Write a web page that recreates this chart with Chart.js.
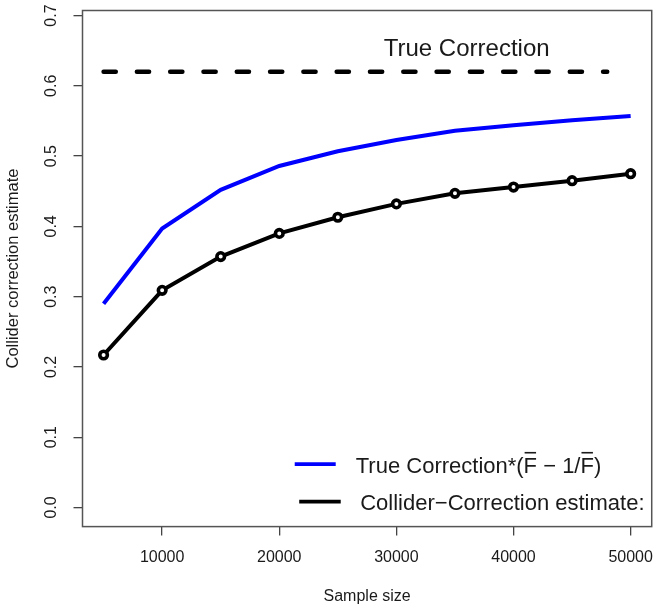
<!DOCTYPE html>
<html>
<head>
<meta charset="utf-8">
<script src="https://cdn.jsdelivr.net/npm/chart.js@4.4.1/dist/chart.umd.min.js"></script>
<style>
  body { margin: 0; background: #fff; }
  canvas { display: block; }
</style>
</head>
<body>
<canvas id="collider-chart" width="666" height="613"></canvas>
<script>
"use strict";
const sampleSizes = [5000, 10000, 15000, 20000, 25000, 30000, 35000, 40000, 45000, 50000];
const trueCorrectionScaled = [0.290, 0.397, 0.452, 0.486, 0.507, 0.523, 0.536, 0.544, 0.551, 0.557];
const colliderEstimate = [0.217, 0.309, 0.357, 0.390, 0.413, 0.432, 0.447, 0.456, 0.465, 0.475];
const trueCorrectionX = [5000, 48000];
const trueCorrectionValue = 0.62;

const xTicks = [10000, 20000, 30000, 40000, 50000];
const xTickLabels = ["10000", "20000", "30000", "40000", "50000"];
const yTicks = [0, 0.1, 0.2, 0.3, 0.4, 0.5, 0.6, 0.7];
const yTickLabels = ["0.0", "0.1", "0.2", "0.3", "0.4", "0.5", "0.6", "0.7"];

const seriesLabels = ["True Correction*(F\u0304 \u2212 1/F\u0304)", "Collider\u2212Correction estimate:"];
const trueCorrectionLabel = "True Correction";
const xTitle = "Sample size";
const yTitle = "Collider correction estimate";

const FONT = "'Liberation Sans', Arial, Helvetica, sans-serif";
const TEXT = "#1a1a1a";
Chart.defaults.font.family = FONT;

// text with combining macron -> draw a bar over the previous letter
function drawOverlined(ctx, text, x, y, size) {
  const chars = Array.from(text);
  let cx = x;
  let run = "";
  const flush = () => {
    if (!run) return;
    ctx.fillText(run, cx, y);
    cx += ctx.measureText(run).width;
    run = "";
  };
  for (let i = 0; i < chars.length; i++) {
    const c = chars[i];
    if (c === "\u0304") continue;
    if (chars[i + 1] === "\u0304") {
      flush();
      ctx.fillText(c, cx, y);
      const w = ctx.measureText(c).width;
      ctx.fillRect(cx + 1, y - size * 0.94, w - 2, 1.6);
      cx += w;
    } else {
      run += c;
    }
  }
  flush();
}

const rStyle = {
  id: "rStyle",
  afterDraw(chart) {
    const { ctx, chartArea: a, scales } = chart;
    ctx.save();

    // plot box
    ctx.strokeStyle = "#555";
    ctx.lineWidth = 1.5;
    ctx.strokeRect(a.left, a.top, a.right - a.left, a.bottom - a.top);

    // y tick labels, rotated like base R
    ctx.fillStyle = TEXT;
    ctx.font = "16px " + FONT;
    ctx.textAlign = "center";
    ctx.textBaseline = "middle";
    yTicks.forEach((v, i) => {
      ctx.save();
      ctx.translate(a.left - 31, scales.y.getPixelForValue(v));
      ctx.rotate(-Math.PI / 2);
      ctx.fillText(yTickLabels[i], 0, 0);
      ctx.restore();
    });

    // y axis title
    ctx.save();
    ctx.font = "16.5px " + FONT;
    ctx.translate(a.left - 69.5, (a.top + a.bottom) / 2);
    ctx.rotate(-Math.PI / 2);
    ctx.fillText(yTitle, 0, 0);
    ctx.restore();

    // label above the dashed line
    ctx.font = "24px " + FONT;
    ctx.textBaseline = "alphabetic";
    ctx.fillText(trueCorrectionLabel, scales.x.getPixelForValue(36000), scales.y.getPixelForValue(0.643));

    // legend, bottom right inside the box
    ctx.font = "22px " + FONT;
    ctx.textAlign = "left";
    const rows = [
      { ds: chart.data.datasets[0], x0: a.right - 357, x1: a.right - 316, tx: a.right - 296, base: a.bottom - 54 },
      { ds: chart.data.datasets[1], x0: a.right - 352.5, x1: a.right - 311, tx: a.right - 291.5, base: a.bottom - 16.5 },
    ];
    rows.forEach((r) => {
      ctx.strokeStyle = r.ds.borderColor;
      ctx.lineWidth = 3.6;
      ctx.beginPath();
      ctx.moveTo(r.x0, r.base - 8.5);
      ctx.lineTo(r.x1, r.base - 8.5);
      ctx.stroke();
      ctx.fillStyle = TEXT;
      drawOverlined(ctx, r.ds.label, r.tx, r.base, 22);
    });

    ctx.restore();
  },
};

const axisGrid = { drawOnChartArea: false, tickLength: 9, color: "#444", lineWidth: 1.3 };

const chart = new Chart(document.querySelector("#collider-chart"), {
  type: "line",
  data: {
    datasets: [
      {
        label: seriesLabels[0],
        data: sampleSizes.map((x, i) => ({ x, y: trueCorrectionScaled[i] })),
        borderColor: "#0000ff",
        borderWidth: 4,
        pointRadius: 0,
        tension: 0,
      },
      {
        label: seriesLabels[1],
        data: sampleSizes.map((x, i) => ({ x, y: colliderEstimate[i] })),
        borderColor: "#000000",
        borderWidth: 4,
        pointRadius: 3.8,
        pointBorderWidth: 3.6,
        pointBackgroundColor: "#ffffff",
        pointBorderColor: "#000000",
        tension: 0,
      },
      {
        label: trueCorrectionLabel,
        data: trueCorrectionX.map((x) => ({ x, y: trueCorrectionValue })),
        borderColor: "#000000",
        borderWidth: 4.5,
        borderDash: [12.2, 21.1],
        borderCapStyle: "round",
        pointRadius: 0,
      },
    ],
  },
  options: {
    responsive: false,
    animation: false,
    devicePixelRatio: 1,
    layout: { padding: { left: 73.5, top: 10.5, right: 8.5, bottom: 0 } },
    plugins: { legend: { display: false }, tooltip: { enabled: false } },
    scales: {
      x: {
        type: "linear",
        min: 3200,
        max: 51800,
        afterBuildTicks: (s) => { s.ticks = xTicks.map((v) => ({ value: v })); },
        grid: axisGrid,
        border: { display: false },
        ticks: {
          padding: 12.8,
          color: TEXT,
          font: { size: 16 },
          maxRotation: 0,
          autoSkip: false,
          callback: (v, i) => xTickLabels[i],
        },
        title: { display: true, text: xTitle, color: TEXT, font: { size: 16 }, padding: { top: 7, bottom: 6.4 } },
      },
      y: {
        type: "linear",
        min: -0.0272,
        max: 0.7072,
        afterBuildTicks: (s) => { s.ticks = yTicks.map((v) => ({ value: v })); },
        grid: axisGrid,
        border: { display: false },
        ticks: { display: false },
      },
    },
  },
  plugins: [rStyle],
});
</script>
</body>
</html>
